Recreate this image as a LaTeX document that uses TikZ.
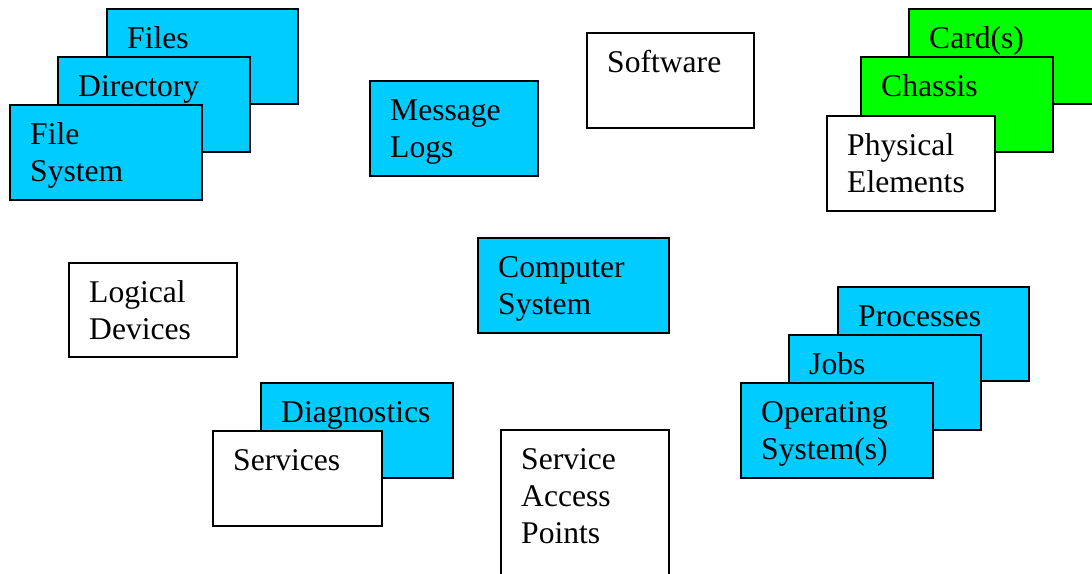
\documentclass[tikz,border=0pt]{standalone}
\usepackage{fontspec}
\setmainfont{Liberation Serif}
\definecolor{boxcyan}{HTML}{00CCFF}
\definecolor{boxgreen}{HTML}{00FF00}
\tikzset{
  box/.style={draw=black, line width=2pt, rectangle, anchor=north west, inner sep=0pt},
  lbl/.style={anchor=base west, inner sep=0pt, font=\fontsize{31.6}{37}\selectfont, text=black}
}
\newcommand\bx[7]{%
  \node[box, fill=#6, minimum width=#4pt, minimum height=#5pt] (#1) at (#2,#3) {};
  \node[lbl] (#1-t) at ([xshift=21pt,yshift=-40pt]#1.north west) {#7};
}
\newcommand\ml[1]{\vtop{#1}}
\begin{document}
\begin{tikzpicture}[x=1pt,y=-1pt]
\useasboundingbox (0,0) rectangle (1092,573);
\clip (0,0) rectangle (1092,573);
% file stack
\bx{files}{106}{8}{191}{95}{boxcyan}{Files}
\bx{dir}{57}{56}{192}{95}{boxcyan}{Directory}
\bx{fs}{9}{104}{192}{95}{boxcyan}{\ml{\hbox{File}\hbox{System}}}
% message logs, software
\bx{logs}{369}{80}{168}{95}{boxcyan}{\ml{\hbox{Message}\hbox{Logs}}}
\bx{sw}{586}{32}{167}{95}{white}{Software}
% physical stack
\bx{cards}{908}{8}{192}{95}{boxgreen}{Card(s)}
\bx{chassis}{860}{56}{192}{95}{boxgreen}{Chassis}
\bx{phys}{826}{115}{168}{95}{white}{\ml{\hbox{Physical}\hbox{Elements}}}
% middle row
\bx{logdev}{68}{262}{168}{94}{white}{\ml{\hbox{Logical}\hbox{Devices}}}
\bx{cs}{477}{237}{191}{95}{boxcyan}{\ml{\hbox{Computer}\hbox{System}}}
% OS stack
\bx{proc}{837}{286}{191}{94}{boxcyan}{Processes}
\bx{jobs}{788}{334}{192}{95}{boxcyan}{Jobs}
\bx{os}{740}{382}{192}{95}{boxcyan}{\ml{\hbox{Operating}\hbox{System(s)}}}
% services
\bx{diag}{260}{382}{192}{95}{boxcyan}{Diagnostics}
\bx{serv}{212}{430}{169}{95}{white}{Services}
\bx{sap}{500}{429}{168}{150}{white}{\ml{\hbox{Service}\hbox{Access}\hbox{Points}}}
\end{tikzpicture}
\end{document}
